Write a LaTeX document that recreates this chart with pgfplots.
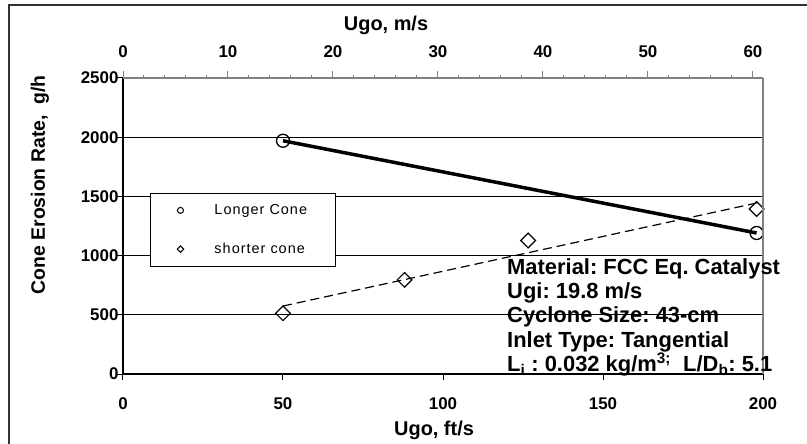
\documentclass[border=0pt]{standalone}
\usepackage{fontspec}
\setmainfont{Liberation Sans}
\usepackage{pgfplots}
\pgfplotsset{compat=1.18}
\frenchspacing
\begin{document}
\begin{tikzpicture}
\useasboundingbox (-123bp,-70bp) rectangle (684bp,374bp);
\draw[line width=1.5bp, color=black!80] (-114bp,-80bp) -- (-114bp,369bp) -- (700bp,369bp);
\begin{axis}[
  at={(0,0)}, anchor=south west,
  scale only axis, width=640bp, height=296bp,
  xmin=0, xmax=200, ymin=0, ymax=2500,
  axis x line*=bottom, axis y line*=left,
  axis line style={line width=1.6bp, black},
  xtick={0,50,...,200}, ytick={0,500,...,2500},
  tick align=outside, major tick length=6bp,
  tick style={black, line width=1bp},
  scaled ticks=false,
  /pgf/number format/1000 sep={},
  /pgf/number format/assume math mode=true,
  ticklabel style={font=\bfseries\fontsize{17}{17}\selectfont},
  xticklabel style={yshift=-14bp},
  yticklabel style={xshift=5bp},
  ymajorgrids, grid style={black, line width=0.8bp},
  xlabel={Ugo, ft/s},
  xlabel style={font=\bfseries\fontsize{20}{20}\selectfont, at={(axis description cs:0.486,-0.189)}, anchor=center},
  ylabel={Cone Erosion Rate,\ \ g/h},
  ylabel style={font=\bfseries\fontsize{19.5}{19.5}\selectfont, at={(axis description cs:-0.13,0.639)}, anchor=center},
  legend cell align=left,
  legend style={at={(axis description cs:0.042,0.6115)}, anchor=north west,
    draw=black, line width=1.2bp, font=\fontsize{14.5}{14.5}\selectfont\addfontfeature{LetterSpace=7},
    inner xsep=20bp, inner ysep=9bp, row sep=23bp, column sep=28bp},
]
\addplot[black, line width=3.5bp, forget plot] coordinates {(50,1970) (198,1191)};
\addplot[black, line width=1.2bp, dash pattern=on 9bp off 5bp, forget plot] coordinates {(50,574) (198,1444)};
\addplot[only marks, mark=o, mark size=6.5bp, mark options={fill=white, draw=black, line width=1.3bp},
  legend image code/.code={\path[draw=none] (0bp,0bp) (14bp,0bp); \draw[black, line width=1bp] (10bp,0bp) circle (3bp);}]
  coordinates {(50,1970) (198,1191)};
\addlegendentry{Longer Cone\hspace*{6bp}}
\addplot[only marks, mark=square, mark size=5.2bp, mark options={rotate=45, fill=white, draw=black, line width=1.2bp},
  legend image code/.code={\path[draw=none] (0bp,0bp) (14bp,0bp); \draw[black, line width=1bp] (10bp,3.2bp) -- (13.2bp,0bp) -- (10bp,-3.2bp) -- (6.8bp,0bp) -- cycle;}]
  coordinates {(50,513) (88,795) (126.6,1128) (198,1394)};
\addlegendentry{shorter cone}
\end{axis}
\begin{axis}[
  at={(0,0)}, anchor=south west,
  scale only axis, width=640bp, height=296bp,
  xmin=0, xmax=60.96, ymin=0, ymax=2500,
  axis x line*=top, axis y line*=right,
  axis line style={line width=1.3bp, black!50},
  xtick={0,10,...,60}, minor x tick num=4, ytick=\empty,
  tick align=outside, major tick length=7bp, minor tick length=3bp,
  tick style={black!50, line width=1bp},
  /pgf/number format/assume math mode=true,
  ticklabel style={font=\bfseries\fontsize{17}{17}\selectfont},
  xticklabel style={yshift=10bp},
  xlabel={Ugo, m/s},
  xlabel style={font=\bfseries\fontsize{20}{20}\selectfont, at={(axis description cs:0.411,1.179)}, anchor=center},
]
\end{axis}
\node[anchor=base west, inner sep=0pt, font=\bfseries\fontsize{22}{24}\selectfont] at (384bp,99bp) {Material: FCC Eq. Catalyst};
\node[anchor=base west, inner sep=0pt, font=\bfseries\fontsize{22}{24}\selectfont] at (384bp,75bp) {Ugi: 19.8 m/s};
\node[anchor=base west, inner sep=0pt, font=\bfseries\fontsize{22}{24}\selectfont] at (384bp,51bp) {Cyclone Size: 43-cm};
\node[anchor=base west, inner sep=0pt, font=\bfseries\fontsize{22}{24}\selectfont] at (384bp,27bp) {Inlet Type: Tangential};
\node[anchor=base west, inner sep=0pt, font=\bfseries\fontsize{22}{24}\selectfont] at (384bp,3bp) {L\textsubscript{i} : 0.032 kg/m\textsuperscript{3;}\ \ L/D\textsubscript{b}: 5.1};
\end{tikzpicture}
\end{document}
